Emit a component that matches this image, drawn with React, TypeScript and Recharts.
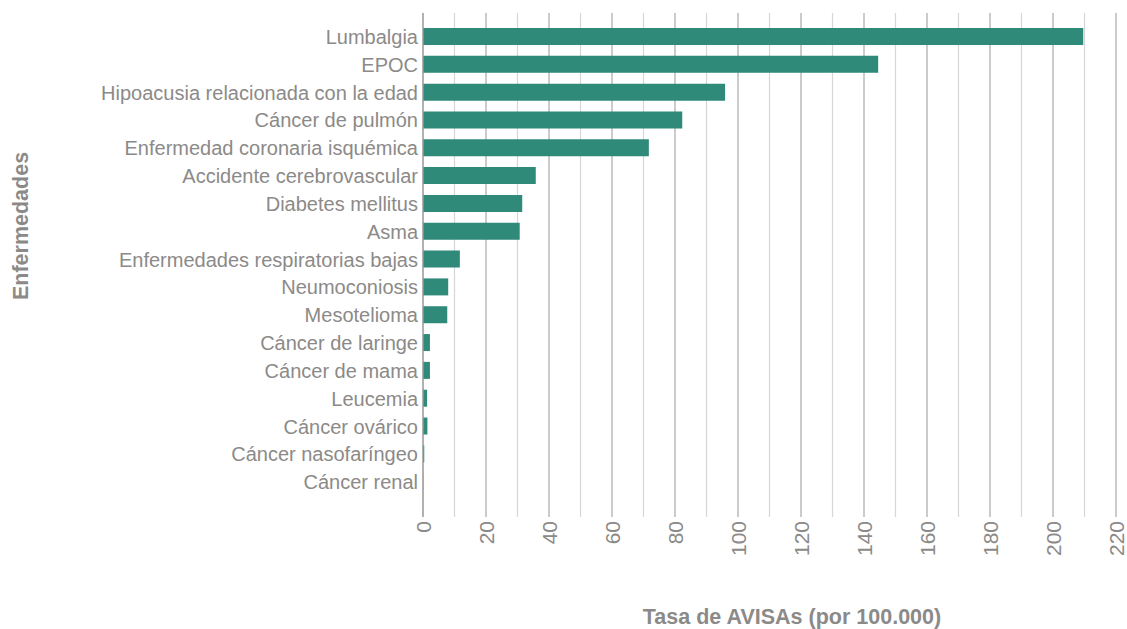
import { BarChart, Bar, XAxis, YAxis, CartesianGrid, Label } from "recharts";

const diseases = [
  "Lumbalgia",
  "EPOC",
  "Hipoacusia relacionada con la edad",
  "Cáncer de pulmón",
  "Enfermedad coronaria isquémica",
  "Accidente cerebrovascular",
  "Diabetes mellitus",
  "Asma",
  "Enfermedades respiratorias bajas",
  "Neumoconiosis",
  "Mesotelioma",
  "Cáncer de laringe",
  "Cáncer de mama",
  "Leucemia",
  "Cáncer ovárico",
  "Cáncer nasofaríngeo",
  "Cáncer renal",
];

const rates = [209.6, 144.5, 95.9, 82.3, 71.7, 35.8, 31.5, 30.7, 11.7, 8.0, 7.7, 2.2, 2.2, 1.3, 1.4, 0.4, 0.05];

// grid every 10, labels every 20
const gridTicks = [0, 10, 20, 30, 40, 50, 60, 70, 80, 90, 100, 110, 120, 130, 140, 150, 160, 170, 180, 190, 200, 210, 220];

const data = diseases.map((name, i) => ({ name, value: rates[i] }));

const FONT = "'Liberation Sans', Arial, Helvetica, sans-serif";
const TEXT = "#8c8a88";
const BAR = "#2f8a7a";

const XTick = ({ x, y, payload }: any) => {
  if (payload.value % 20 !== 0) return null;
  return (
    <text
      x={x}
      y={y}
      transform={`rotate(-90, ${x}, ${y})`}
      textAnchor="end"
      dy="0.36em"
      fill={TEXT}
      fontSize={21}
      fontFamily={FONT}
    >
      {payload.value}
    </text>
  );
};

const gridLine = (props: any) => {
  const { x1, x2, y1, y2, index } = props;
  const major = index % 2 === 0;
  return (
    <line
      key={`g-${index}`}
      x1={x1}
      x2={x2}
      y1={y1}
      y2={y2}
      stroke={major ? "#a8a8a8" : "#d6d6d6"}
      strokeWidth={1.2}
    />
  );
};

export default function App() {
  return (
    <div style={{ position: "absolute", left: 0, top: 0, width: 1127, height: 629, background: "#fff" }}>
      <BarChart
        width={1127}
        height={629}
        data={data}
        layout="vertical"
        margin={{ top: 13, right: 11, left: 0, bottom: 0 }}
        barCategoryGap={0}
      >
        <CartesianGrid horizontal={false} vertical={gridLine} />
        <XAxis
          type="number"
          domain={[0, 220]}
          ticks={gridTicks}
          interval={0}
          axisLine={false}
          tickLine={false}
          tickSize={0}
          tickMargin={4}
          height={112}
          tick={<XTick />}
        >
          <Label
            content={() => (
              <text
                x={792}
                y={624}
                textAnchor="middle"
                fill={TEXT}
                fontSize={21.5}
                fontWeight="bold"
                fontFamily={FONT}
              >
                Tasa de AVISAs (por 100.000)
              </text>
            )}
          />
        </XAxis>
        <YAxis
          type="category"
          dataKey="name"
          width={423}
          padding={{ top: 10, bottom: 21 }}
          axisLine={{ stroke: "#a0a0a0", strokeWidth: 1.2 }}
          tickLine={false}
          tickSize={0}
          tickMargin={5}
          interval={0}
          tick={{ fill: TEXT, fontSize: 20, fontFamily: FONT }}
        >
          <Label
            content={() => (
              <text
                x={20}
                y={226}
                transform="rotate(-90, 20, 226)"
                textAnchor="middle"
                dy="0.36em"
                fill={TEXT}
                fontSize={21.5}
                fontWeight="bold"
                fontFamily={FONT}
              >
                Enfermedades
              </text>
            )}
          />
        </YAxis>
        <Bar dataKey="value" fill={BAR} barSize={17} isAnimationActive={false} />
      </BarChart>
    </div>
  );
}
